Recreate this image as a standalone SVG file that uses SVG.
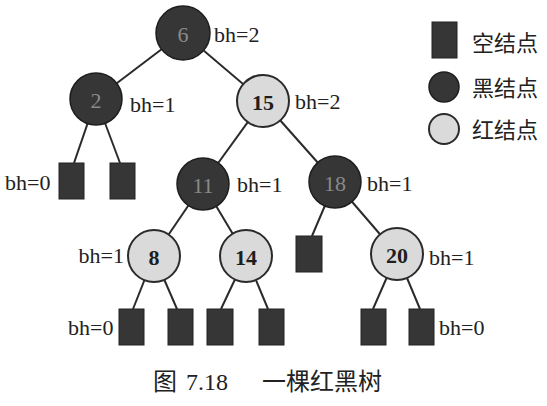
<svg xmlns="http://www.w3.org/2000/svg" width="547" height="406" viewBox="0 0 547 406">
<style>
.bk{fill:#363636;stroke:#1e1e1e;stroke-width:1.5}
.rd{fill:#dadada;stroke:#2a2a2a;stroke-width:2}
.nl{fill:#363636;stroke:#222;stroke-width:1}
.e{stroke:#2a2a2a;stroke-width:2;fill:none}
.bh{font-family:"Liberation Serif","Times New Roman",serif;font-size:22px;fill:#222;dominant-baseline:central}
.nb{font-family:"Liberation Serif","Times New Roman",serif;font-size:22px;text-anchor:middle;dominant-baseline:central}
.nbk{fill:#8a8a8a}
.nrd{fill:#1e1e1e;font-weight:bold}
.lg{font-family:"Noto Sans CJK SC",sans-serif;font-size:22px;fill:#222;dominant-baseline:central}
.cap{font-family:"Liberation Serif","Noto Sans CJK SC",serif;font-size:24px;fill:#222;dominant-baseline:central}
</style>
<rect width="547" height="406" fill="#ffffff"/>
<g id="connectors">
<line class="e" x1="183" y1="33" x2="96" y2="99"/>
<line class="e" x1="183" y1="33" x2="263" y2="101"/>
<line class="e" x1="96" y1="99" x2="74" y2="163"/>
<line class="e" x1="96" y1="99" x2="120" y2="163"/>
<line class="e" x1="263" y1="101" x2="203" y2="184"/>
<line class="e" x1="263" y1="101" x2="335" y2="182"/>
<line class="e" x1="203" y1="184" x2="154" y2="256"/>
<line class="e" x1="203" y1="184" x2="246" y2="256"/>
<line class="e" x1="335" y1="182" x2="312" y2="236"/>
<line class="e" x1="335" y1="182" x2="397" y2="254"/>
<line class="e" x1="154" y1="256" x2="133" y2="309"/>
<line class="e" x1="154" y1="256" x2="177" y2="309"/>
<line class="e" x1="246" y1="256" x2="221" y2="309"/>
<line class="e" x1="246" y1="256" x2="268" y2="309"/>
<line class="e" x1="397" y1="254" x2="373" y2="309"/>
<line class="e" x1="397" y1="254" x2="420" y2="309"/>
</g>
<g id="n6"><circle class="bk" cx="183" cy="33" r="27"/><text class="nb nbk" x="183" y="34">6</text><text class="bh" x="214" y="34">bh=2</text></g>
<g id="n2"><circle class="bk" cx="96" cy="99" r="26"/><text class="nb nbk" x="96" y="100">2</text><text class="bh" x="130" y="104">bh=1</text></g>
<g id="n15"><circle class="rd" cx="263" cy="101" r="26"/><text class="nb nrd" x="263" y="102">15</text><text class="bh" x="295" y="101">bh=2</text></g>
<g id="n11"><circle class="bk" cx="203" cy="184" r="26"/><text class="nb nbk" x="203" y="185">11</text><text class="bh" x="237" y="184">bh=1</text></g>
<g id="n18"><circle class="bk" cx="335" cy="182" r="26"/><text class="nb nbk" x="335" y="183">18</text><text class="bh" x="367" y="183">bh=1</text></g>
<g id="n8"><circle class="rd" cx="154" cy="256" r="26"/><text class="nb nrd" x="154" y="257">8</text><text class="bh" x="124" y="255" text-anchor="end">bh=1</text></g>
<g id="n14"><circle class="rd" cx="246" cy="256" r="26"/><text class="nb nrd" x="246" y="257">14</text></g>
<g id="n20"><circle class="rd" cx="397" cy="254" r="26"/><text class="nb nrd" x="397" y="255">20</text><text class="bh" x="429" y="257">bh=1</text></g>
<g id="nil1"><rect class="nl" x="59" y="163" width="25" height="36"/><text class="bh" x="5" y="182">bh=0</text></g>
<g id="nil2"><rect class="nl" x="110" y="163" width="25" height="36"/></g>
<g id="nil3"><rect class="nl" x="296" y="236" width="26" height="36"/></g>
<g id="nil4"><rect class="nl" x="119" y="309" width="25" height="36"/><text class="bh" x="68" y="327">bh=0</text></g>
<g id="nil5"><rect class="nl" x="168" y="309" width="25" height="36"/></g>
<g id="nil6"><rect class="nl" x="207" y="309" width="26" height="36"/></g>
<g id="nil7"><rect class="nl" x="259" y="309" width="25" height="36"/></g>
<g id="nil8"><rect class="nl" x="361" y="309" width="25" height="36"/></g>
<g id="nil9"><rect class="nl" x="409" y="309" width="25" height="36"/><text class="bh" x="439" y="327">bh=0</text></g>
<g id="legend">
<rect class="nl" x="432" y="22" width="25" height="36"/>
<text class="lg" x="472" y="41">空结点</text>
<circle class="bk" cx="444" cy="87" r="15"/>
<text class="lg" x="472" y="86">黑结点</text>
<circle class="rd" cx="444" cy="129" r="15"/>
<text class="lg" x="472" y="128">红结点</text>
</g>
<g id="caption">
<text class="cap" y="382"><tspan x="153">图</tspan><tspan x="186">7.18</tspan><tspan x="262">一棵红黑树</tspan></text>
</g>
</svg>
